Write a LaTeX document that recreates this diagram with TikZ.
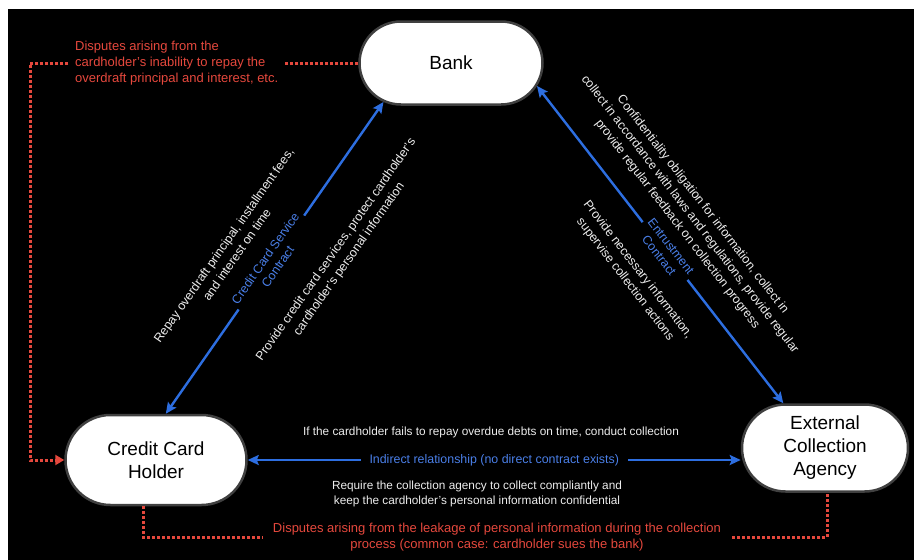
\documentclass[tikz,border=0pt]{standalone}
\usepackage{fontspec}
\setmainfont{Liberation Sans}
\usetikzlibrary{shapes.misc, arrows.meta, calc}
\definecolor{linkblue}{HTML}{2D6EE0}
\definecolor{lblblue}{HTML}{4A7FE8}
\definecolor{disputered}{HTML}{E5483D}
\definecolor{notewhite}{HTML}{EDEDED}

\begin{document}
\begin{tikzpicture}[x=1pt, y=-1pt,
    >={Stealth[length=11pt, width=10pt, inset=2pt]},
    party/.style={rounded rectangle, draw=black!75, line width=2.5pt, fill=white, text=black,
        align=center, inner xsep=2pt, inner ysep=2pt, font=\fontsize{19}{23}\selectfont},
    link/.style={draw=linkblue, line width=2.4pt, <->},
    lbl/.style={fill=black, text=lblblue, align=center, inner sep=3pt, font=\fontsize{12.4}{15}\selectfont},
    note/.style={text=notewhite, align=center, inner sep=0pt, font=\fontsize{11.8}{16}\selectfont},
    tilted/.style={note, font=\fontsize{12.4}{16}\selectfont},
    dispute/.style={draw=disputered, line width=3pt, dash pattern=on 3pt off 2pt},
    disptext/.style={fill=black, text=disputered, inner ysep=1pt, font=\fontsize{13}{16}\selectfont}]
        \fill[white] (0,0) rectangle (914,560);
        \fill[black] (8,9) rectangle (914,560);
        \useasboundingbox (0,0) rectangle (914,560);

        % the three parties
        \node[party, minimum width=187pt, minimum height=83pt] (bank) at (451,63) {Bank};
        \node[party, minimum width=185pt, minimum height=90pt] (holder) at (156,460) {Credit Card\\Holder};
        \node[party, minimum width=170pt, minimum height=87pt] (agency) at (825,448) {External\\Collection\\Agency};

        % contracts
        \draw[link] (holder.78) -- node[lbl, sloped, pos=0.485] (svc) {Credit Card Service\\Contract} (bank.210);
        \draw[link] (bank.-15) -- node[lbl, sloped, pos=0.52] (trust) {Entrustment\\Contract} (agency.133);
        \draw[link] (holder.east) -- node[lbl, inner xsep=9pt] (indirect) {Indirect relationship (no direct contract exists)} (holder.east -| agency.west);

        \coordinate (m1) at ($(holder.78)!0.45!(bank.210)$);
        \coordinate (m2) at ($(holder.78)!0.61!(bank.210)$);
        \coordinate (m3) at ($(bank.-15)!0.486!(agency.133)$);
        \coordinate (m4) at ($(bank.-15)!0.515!(agency.133)$);
        \node[tilted, rotate=55] (repay) at ($(m1)!41pt!90:(bank.210)$) {Repay overdraft principal, installment fees,\\and interest on time};
        \node[tilted, rotate=55] (service) at ($(m2)!54pt!-90:(bank.210)$) {Provide credit card services, protect cardholder's\\cardholder's personal information};
        \node[tilted, rotate=-52.3] (duty) at ($(m3)!42pt!90:(agency.133)$) {Confidentiality obligation for information, collect in\\collect in accordance with laws and regulations, provide regular\\provide regular feedback on collection progress};
        \node[tilted, rotate=-52.3] (supervise) at ($(m4)!41pt!-90:(agency.133)$) {Provide necessary information,\\supervise collection actions};
        \node[note] (fails) at (491,432) {If the cardholder fails to repay overdue debts on time, conduct collection};
        \node[note, font=\fontsize{11.8}{14.5}\selectfont] (require) at (477,494) {Require the collection agency to collect compliantly and\\keep the cardholder's personal information confidential};

        % disputes
        \coordinate (tl) at (30,63);
        \coordinate (bl) at (143,537);
        \coordinate (br) at (827,537);
        \draw[dispute, -{Triangle[length=9pt, width=10pt]}] (bank.west) -- (tl) |- (holder.west);
        \draw[dispute] (holder.south -| bl) -- (bl) -- (br) -- (agency.south -| br);
        \node[disptext, anchor=west, align=left, inner xsep=6pt] (bankdisp) at (69,63) {Disputes arising from the\\cardholder's inability to repay the\\overdraft principal and interest, etc.};
        \node[disptext, align=center, inner xsep=10pt] (leakdisp) at (497,537) {Disputes arising from the leakage of personal information during the collection\\process (common case: cardholder sues the bank)};
\end{tikzpicture}
\end{document}
